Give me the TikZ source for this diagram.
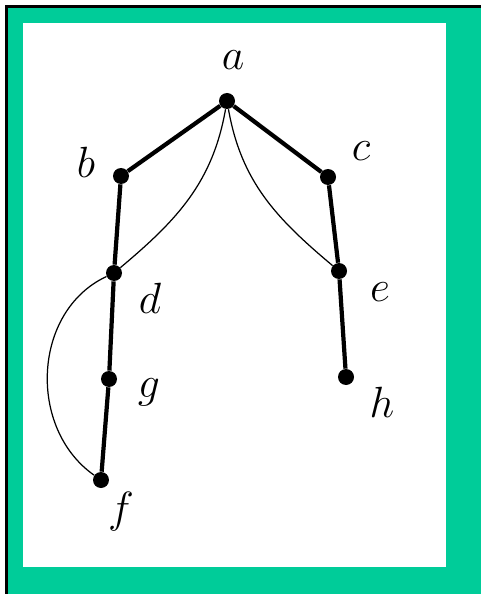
\documentclass[tikz,border=0pt]{standalone}
\usepackage{tikz}
\definecolor{framegreen}{RGB}{0,204,153}
\tikzset{
  vert/.style={circle, fill=black, inner sep=0pt, minimum size=0.32cm},
  vlabel/.style={inner sep=0pt, font=\fontsize{24}{28}\selectfont},
  tree/.style={line width=2.4pt},
  back/.style={line width=0.7pt}
}
\begin{document}
\begin{tikzpicture}[x=0.02cm,y=-0.02cm]
\useasboundingbox (0,0) rectangle (481,594);
\fill[framegreen] (7,7) rectangle (481,594);
\draw[line width=2pt] (6.5,594) -- (6.5,6.5) -- (481,6.5);
\fill[white] (23,23) rectangle (446,567);
% vertices
\node[vert] (a) at (227,101) {};
\node[vert] (b) at (121,176) {};
\node[vert] (c) at (328,177) {};
\node[vert] (d) at (114,273) {};
\node[vert] (e) at (339,271) {};
\node[vert] (g) at (109,379) {};
\node[vert] (h) at (346,377) {};
\node[vert] (f) at (101,480) {};
% labels
\node[vlabel] (la) at (233,60) {$a$};
\node[vlabel] (lb) at (86,162) {$b$};
\node[vlabel] (lc) at (361,151) {$c$};
\node[vlabel] (ld) at (150,298) {$d$};
\node[vlabel] (le) at (380,292) {$e$};
\node[vlabel] (lg) at (149,392) {$g$};
\node[vlabel] (lh) at (382,402) {$h$};
\node[vlabel] (lf) at (121,512) {$f$};
% tree edges
\draw[tree] (a) -- (b);
\draw[tree] (a) -- (c);
\draw[tree] (b) -- (d);
\draw[tree] (c) -- (e);
\draw[tree] (d) -- (g);
\draw[tree] (g) -- (f);
\draw[tree] (e) -- (h);
% back edges
\draw[back] (a) to[out=-100, in=40] (d);
\draw[back] (a) to[out=-80, in=140] (e);
\draw[back] (d) to[out=205, in=145, looseness=1.05] (f);
\end{tikzpicture}
\end{document}
